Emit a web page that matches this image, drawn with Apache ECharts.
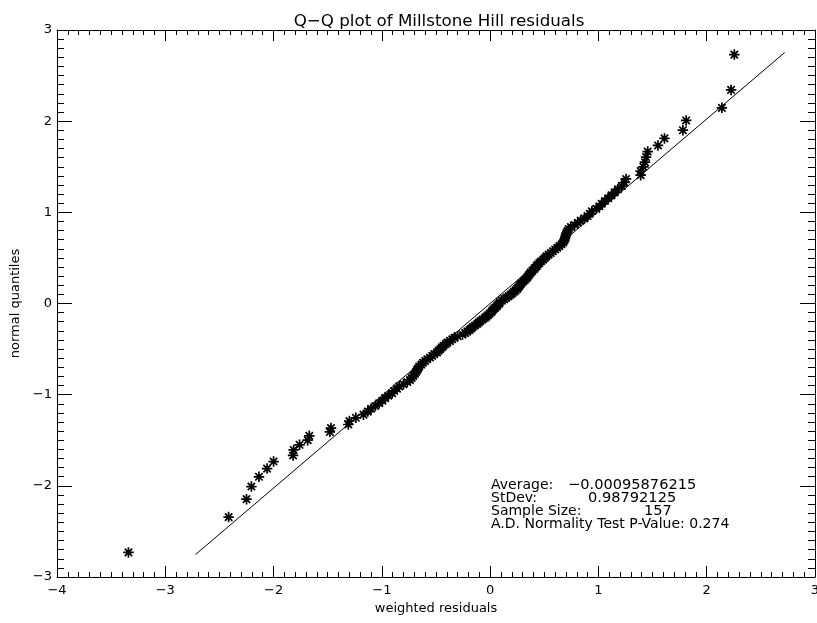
<!DOCTYPE html>
<html><head><meta charset="utf-8">
<script src="https://cdn.jsdelivr.net/npm/echarts@6/dist/echarts.min.js"></script>
<style>html,body{margin:0;padding:0;background:#fff;overflow:hidden}#c{width:817px;height:623px}</style>
</head><body><div id="c"></div>
<script>
// weighted residuals (x), sorted
const residuals = [
 -3.34,-2.415,-2.25,-2.205,-2.135,-2.06,-2.0,-1.82,-1.815,-1.76,-1.685,-1.67,-1.48,-1.47,-1.31,-1.30,-1.24,
 -1.17,-1.13,-1.10,-1.06,-1.025,-0.995,-0.97,-0.94,-0.905,-0.885,-0.86,-0.84,-0.80,-0.765,-0.74,-0.725,-0.71,-0.695,
 -0.685,-0.675,-0.665,-0.655,-0.635,-0.62,-0.60,-0.58,-0.555,-0.535,-0.515,-0.49,-0.475,-0.46,-0.445,-0.43,-0.41,
 -0.395,-0.37,-0.35,-0.33,-0.30,-0.255,-0.23,-0.21,-0.19,-0.175,-0.16,-0.14,-0.12,-0.105,-0.09,-0.07,-0.05,-0.035,
 -0.02,-0.005,0.01,0.02,0.03,0.045,0.06,0.07,0.085,
 0.09,0.11,0.13,0.15,0.17,0.19,0.205,0.22,0.235,0.25,0.26,0.27,0.28,0.29,0.305,0.32,0.335,0.345,0.355,0.365,0.375,
 0.39,0.405,0.415,0.43,0.44,0.455,0.47,0.49,0.505,0.52,0.54,0.56,0.58,0.60,0.62,0.64,0.66,0.675,0.685,0.69,0.695,
 0.70,0.705,0.715,0.725,0.745,0.78,0.81,0.835,0.87,0.90,0.92,0.94,0.98,1.01,1.03,1.06,1.09,1.12,1.15,1.18,1.215,
 1.24,1.255,1.39,1.39,1.415,1.43,1.44,1.455,1.55,1.61,1.78,1.81,2.14,2.225,2.255
];
// normal quantiles (y)
const normalQuantiles = [
 -2.730,-2.343,-2.146,-2.008,-1.901,-1.811,-1.734,-1.667,-1.606,-1.550,-1.499,-1.452,-1.408,-1.366,-1.327,-1.289,-1.254,
 -1.219,-1.186,-1.154,-1.124,-1.094,-1.066,-1.038,-1.011,-0.984,-0.959,-0.934,-0.909,-0.886,-0.862,-0.839,-0.817,-0.795,-0.773,
 -0.752,-0.731,-0.710,-0.690,-0.670,-0.650,-0.630,-0.611,-0.592,-0.573,-0.554,-0.536,-0.517,-0.499,-0.481,-0.463,-0.445,
 -0.428,-0.410,-0.393,-0.375,-0.358,-0.341,-0.324,-0.308,-0.291,-0.274,-0.258,-0.241,-0.225,-0.209,-0.192,-0.176,-0.160,-0.144,
 -0.128,-0.112,-0.096,-0.080,-0.064,-0.048,-0.032,-0.016,0,
 0.016,0.032,0.048,0.064,0.080,0.096,0.112,0.128,0.144,0.160,0.176,0.192,0.209,0.225,0.241,0.258,0.274,0.291,0.308,0.324,0.341,
 0.358,0.375,0.393,0.410,0.428,0.445,0.463,0.481,0.499,0.517,0.536,0.554,0.573,0.592,0.611,0.630,0.650,0.670,0.690,0.710,0.731,
 0.752,0.773,0.795,0.817,0.839,0.862,0.886,0.909,0.934,0.959,0.984,1.011,1.038,1.066,1.094,1.124,1.154,1.186,1.219,1.254,1.289,
 1.327,1.366,1.408,1.452,1.499,1.550,1.606,1.667,1.734,1.811,1.901,2.008,2.146,2.343,2.730
];
// reference line endpoints
const refLineX = [-2.72, 2.72];
const refLineY = [-2.753, 2.753];
// stats annotation
const statLabels = ['Average:', 'StDev:', 'Sample Size:', 'A.D. Normality Test P-Value: 0.274'];
const statValues = ['\u22120.00095876215', '0.98792125', '157', ''];

const titleText = 'Q\u2212Q plot of Millstone Hill residuals';
const xName = 'weighted residuals';
const yName = 'normal quantiles';

const FONT = 'DejaVu Sans';
const fmt = v => (v < 0 ? '\u2212' + Math.abs(v) : String(v));

const chart = echarts.init(document.getElementById('c'), null, {renderer: 'canvas', width: 817, height: 623});
const scatterData = residuals.map((x, i) => [x, normalQuantiles[i]]);
const lineData = refLineX.map((x, i) => [x, refLineY[i]]);

function axisBase(len, minorLen) {
  return {
    type: 'value',
    axisLine: {show: true, onZero: false, lineStyle: {color: '#000', width: 1}},
    axisTick: {show: true, inside: true, length: len, lineStyle: {color: '#000', width: 1}},
    minorTick: {show: true, splitNumber: 10, length: minorLen, lineStyle: {color: '#000', width: 1}},
    splitLine: {show: false},
    minorSplitLine: {show: false}
  };
}

const statsGraphics = [];
const rowY = [485, 498, 511, 524];
const valueX = [568, 588, 644, 0];
statLabels.forEach((t, i) => {
  statsGraphics.push({type: 'text', x: 491, y: rowY[i], style: {text: t, fill: '#000', font: '14px ' + FONT, verticalAlign: 'middle', align: 'left'}});
  if (statValues[i]) statsGraphics.push({type: 'text', x: valueX[i], y: rowY[i], style: {text: statValues[i], fill: '#000', font: '14.6px ' + FONT, verticalAlign: 'middle', align: 'left'}});
});

chart.setOption({
  animation: false,
  backgroundColor: '#fff',
  title: {text: titleText, left: 434, top: 8, textAlign: 'center',
    textStyle: {fontFamily: FONT, fontSize: 16.7, fontWeight: 'normal', color: '#000'}},
  grid: {left: 57, right: 2, top: 30, bottom: 46, containLabel: false, outerBoundsMode: 'none'},
  xAxis: [
    Object.assign(axisBase(11, 5), {min: -4, max: 3, interval: 1, position: 'bottom',
      axisLabel: {color: '#000', fontFamily: FONT, fontSize: 13, margin: 7, formatter: fmt},
      name: xName, nameLocation: 'middle', nameGap: 24,
      nameTextStyle: {fontFamily: FONT, fontSize: 13, color: '#000'}}),
    Object.assign(axisBase(11, 5), {min: -4, max: 3, interval: 1, position: 'top', axisLabel: {show: false}})
  ],
  yAxis: [
    Object.assign(axisBase(15, 7), {min: -3, max: 3, interval: 1, position: 'left',
      axisLabel: {color: '#000', fontFamily: FONT, fontSize: 13, margin: 5, formatter: fmt},
      name: yName, nameLocation: 'middle', nameGap: 31,
      nameTextStyle: {fontFamily: FONT, fontSize: 13, color: '#000'}}),
    Object.assign(axisBase(15, 7), {min: -3, max: 3, interval: 1, position: 'right', axisLabel: {show: false}})
  ],
  graphic: statsGraphics,
  series: [
    {type: 'line', data: lineData, xAxisIndex: 0, yAxisIndex: 0, symbol: 'none',
      lineStyle: {color: '#000', width: 1}, silent: true},
    {type: 'scatter', data: scatterData, xAxisIndex: 0, yAxisIndex: 0,
      symbol: 'path://M0,5L10,5M5,0L5,10M1.5,1.5L8.5,8.5M1.5,8.5L8.5,1.5',
      symbolSize: 10.5,
      itemStyle: {color: 'none', borderColor: '#000', borderWidth: 1.7, opacity: 1}}
  ]
});
</script>
</body></html>
